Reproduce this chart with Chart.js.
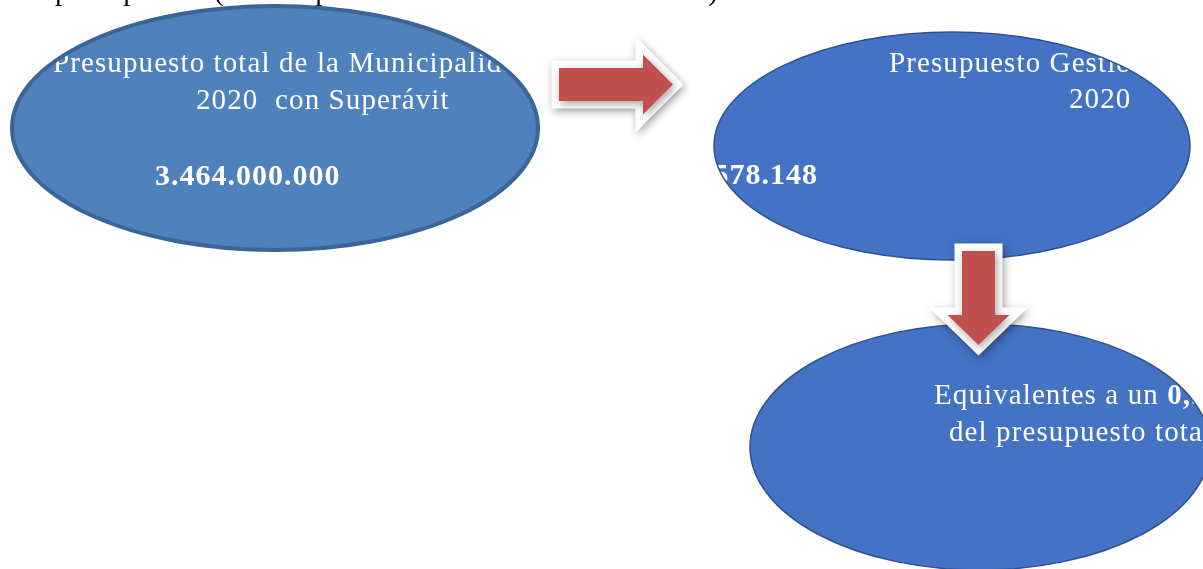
<!DOCTYPE html>
<html><head><meta charset="utf-8">
<script src="https://cdn.jsdelivr.net/npm/chart.js@4.4.1/dist/chart.umd.min.js"></script>
<style>html,body{margin:0;padding:0;background:#fff;overflow:hidden}canvas{display:block}</style>
</head><body>
<canvas id="c" width="1203" height="569"></canvas>
<script>
// ---- content (texts / values) ----
const docLine = 'presupuesto (con respecto al total de dicha Comuna)';
const nodeTitles = ['Presupuesto total de la Municipalidad', 'Presupuesto Gestión Ambiental', 'Equivalentes a un '];
const nodeSubtitles = ['2020  con Superávit', '2020', 'del presupuesto total'];
const nodeValues = ['3.464.000.000', '19.578.148', '0,56%'];

// ---- layout (diagram units on hidden linear axes) ----
const ovalCenters = [{x: 275, y: 128}, {x: 952, y: 146}, {x: 980, y: 447}];
const ovalRadii = [{rx: 263, ry: 122}, {rx: 238, ry: 114}, {rx: 230, ry: 123}];
const ovalStyles = [
  {fill: '#4F81BD', stroke: '#3B6497', lw: 4},
  {fill: '#4472C4', stroke: '#2F528F', lw: 1.5},
  {fill: '#4472C4', stroke: '#2F528F', lw: 1.5}
];
const arrowTips = [{x: 673, y: 84.5}, {x: 978.5, y: 345}];
const arrowGeom = [
  {fromX: 559, fromY: 84.5, shaft: 33, head: 60, headLen: 30},
  {fromX: 978.5, fromY: 251, shaft: 33, head: 62, headLen: 30}
];
const textPlacement = [
  {node: 0, kind: 'title', x: 53, y: 72},
  {node: 0, kind: 'sub', x: 196, y: 109},
  {node: 0, kind: 'value', x: 155, y: 185},
  {node: 1, kind: 'title', x: 889, y: 72},
  {node: 1, kind: 'sub', x: 1069, y: 108},
  {node: 1, kind: 'value', x: 818, y: 184, align: 'right'},
  {node: 2, kind: 'title', x: 934, y: 404, inlineValue: true},
  {node: 2, kind: 'sub', x: 949, y: 441}
];

const REG = '29px "Liberation Serif", "Times New Roman", serif';
const REG_LS = '1.1px';
const BOLD = 'bold 30px "Liberation Serif", "Times New Roman", serif';

function ellipsePath(ctx, x, y, rx, ry) {
  ctx.beginPath();
  ctx.ellipse(x, y, rx, ry, 0, 0, Math.PI * 2);
  ctx.closePath();
}

const diagramPlugin = {
  id: 'diagram',
  afterDatasetsDraw(chart) {
    const ctx = chart.ctx;
    const xs = chart.scales.x, ys = chart.scales.y;
    const px = v => xs.getPixelForValue(v);
    const py = v => ys.getPixelForValue(v);
    const ovalMeta = chart.getDatasetMeta(0).data;
    const arrowMeta = chart.getDatasetMeta(1).data;

    // document text line (cut at top)
    ctx.save();
    ctx.font = REG;
    ctx.fillStyle = '#000';
    ctx.textBaseline = 'alphabetic';
    ctx.letterSpacing = REG_LS;
    ctx.fillText(docLine, px(55), py(0));
    ctx.restore();

    // oval fills
    ovalMeta.forEach((el, i) => {
      const rx = px(ovalCenters[i].x + ovalRadii[i].rx) - el.x;
      const ry = Math.abs(py(ovalCenters[i].y + ovalRadii[i].ry) - el.y);
      ctx.save();
      ellipsePath(ctx, el.x, el.y, rx, ry);
      ctx.fillStyle = ovalStyles[i].fill;
      ctx.fill();
      ctx.restore();
    });

    // texts
    ctx.save();
    ctx.fillStyle = '#fff';
    ctx.textBaseline = 'alphabetic';
    textPlacement.forEach(t => {
      let s;
      if (t.kind === 'title') { s = nodeTitles[t.node]; ctx.font = REG; ctx.letterSpacing = REG_LS; }
      else if (t.kind === 'sub') { s = nodeSubtitles[t.node]; ctx.font = REG; ctx.letterSpacing = REG_LS; }
      else { s = nodeValues[t.node]; ctx.font = BOLD; ctx.letterSpacing = '1px'; }
      ctx.textAlign = t.align || 'left';
      ctx.fillText(s, px(t.x), py(t.y));
      if (t.inlineValue) {
        const w = ctx.measureText(s).width;
        ctx.font = 'bold 29px "Liberation Serif", "Times New Roman", serif';
        ctx.textAlign = 'left';
        ctx.fillText(nodeValues[t.node], px(t.x) + w, py(t.y));
      }
    });
    ctx.restore();

    // oval strokes
    ovalMeta.forEach((el, i) => {
      const rx = px(ovalCenters[i].x + ovalRadii[i].rx) - el.x;
      const ry = Math.abs(py(ovalCenters[i].y + ovalRadii[i].ry) - el.y);
      ctx.save();
      ellipsePath(ctx, el.x, el.y, rx, ry);
      ctx.strokeStyle = ovalStyles[i].stroke;
      ctx.lineWidth = ovalStyles[i].lw;
      ctx.stroke();
      ctx.restore();
    });

    // arrows
    arrowMeta.forEach((el, i) => {
      const g = arrowGeom[i];
      const fx = px(g.fromX), fy = py(g.fromY);
      const tx = el.x, ty = el.y;
      const dx = tx - fx, dy = ty - fy;
      const len = Math.hypot(dx, dy);
      const ux = dx / len, uy = dy / len;
      const nx = -uy, ny = ux;
      const hs = g.shaft / 2, hh = g.head / 2;
      const bx = tx - ux * g.headLen, by = ty - uy * g.headLen;
      const pts = [
        [fx + nx * hs, fy + ny * hs],
        [bx + nx * hs, by + ny * hs],
        [bx + nx * hh, by + ny * hh],
        [tx, ty],
        [bx - nx * hh, by - ny * hh],
        [bx - nx * hs, by - ny * hs],
        [fx - nx * hs, fy - ny * hs]
      ];
      const path = () => {
        ctx.beginPath();
        pts.forEach((p, k) => k ? ctx.lineTo(p[0], p[1]) : ctx.moveTo(p[0], p[1]));
        ctx.closePath();
      };
      ctx.save();
      ctx.lineJoin = 'miter';
      ctx.miterLimit = 10;
      ctx.shadowColor = 'rgba(0,0,0,0.35)';
      ctx.shadowBlur = 8;
      ctx.shadowOffsetX = 2;
      ctx.shadowOffsetY = 3;
      path();
      ctx.strokeStyle = '#fff';
      ctx.lineWidth = 15;
      ctx.stroke();
      ctx.fillStyle = '#fff';
      ctx.fill();
      ctx.restore();
      ctx.save();
      path();
      ctx.fillStyle = '#C0504D';
      ctx.fill();
      ctx.restore();
    });
  }
};

new Chart(document.getElementById('c'), {
  type: 'scatter',
  data: {
    datasets: [
      {label: 'Óvalos', data: ovalCenters, pointRadius: 0, pointHoverRadius: 0},
      {label: 'Flechas', data: arrowTips, pointRadius: 0, pointHoverRadius: 0}
    ]
  },
  options: {
    responsive: false,
    animation: false,
    devicePixelRatio: 1,
    events: [],
    layout: {padding: 0},
    plugins: {legend: {display: false}, tooltip: {enabled: false}, title: {display: false}},
    scales: {
      x: {type: 'linear', min: 0, max: 1203, display: false},
      y: {type: 'linear', min: 0, max: 569, reverse: true, display: false}
    }
  },
  plugins: [diagramPlugin]
});
</script>
</body></html>
